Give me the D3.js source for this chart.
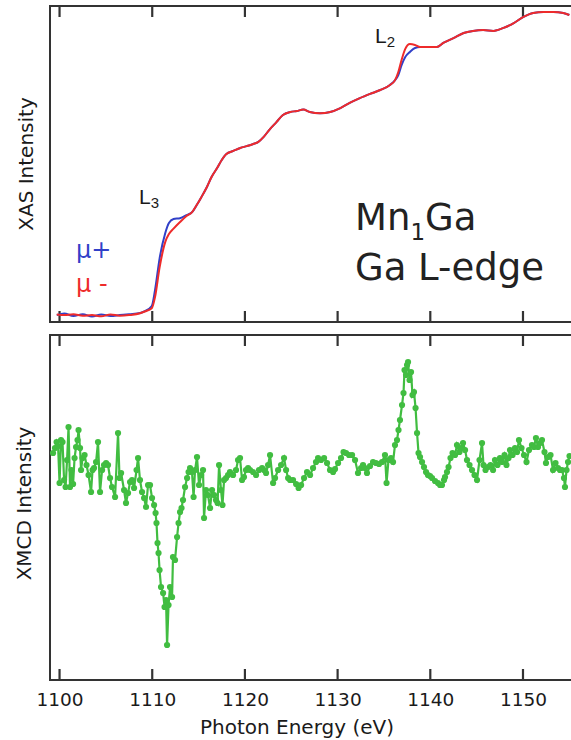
<!DOCTYPE html>
<html>
<head>
<meta charset="utf-8">
<script src="https://cdn.jsdelivr.net/npm/d3@7"></script>
<style>
  body { margin: 0; background: #fff; }
  text { font-family: "DejaVu Sans", sans-serif; fill: #1a1a1a; }
</style>
</head>
<body>
<div id="chart"></div>
<script>
// x ticks shared by both panels
const tickValues = [1100, 1110, 1120, 1130, 1140, 1150];

// XAS (top panel), same energy grid for both helicities
const xasEnergy = [1099.7, 1100.5, 1101.5, 1102.5, 1103.5, 1104.5, 1105.5, 1106.5, 1107.5, 1108.7,
  1109.2, 1109.95, 1110.3, 1110.8, 1111.4, 1111.8, 1112.3, 1113.0, 1113.7, 1114.3,
  1114.8, 1115.3, 1115.9, 1116.4, 1117.0, 1117.5, 1118.0, 1118.75, 1119.5, 1120.2,
  1120.9, 1121.45, 1122.0, 1122.7, 1123.4, 1124.1, 1124.9, 1125.6, 1126.3, 1127.0,
  1128.1, 1129.2, 1130.3, 1131.3, 1132.4, 1133.5, 1134.6, 1135.65, 1136.2, 1136.55,
  1136.9, 1137.3, 1137.8, 1138.35, 1138.9, 1140.0, 1140.7, 1141.4, 1142.5, 1143.6,
  1144.6, 1145.7, 1146.8, 1147.9, 1149.0, 1150.0, 1151.1, 1152.2, 1153.3, 1154.35, 1155.0];

const xasPlus = [0.000, 0.005, -0.003, 0.003, -0.005, 0.002, -0.003, 0.000, 0.003, 0.007,
  0.013, 0.030, 0.083, 0.190, 0.273, 0.307, 0.320, 0.323, 0.333, 0.343,
  0.367, 0.393, 0.427, 0.460, 0.490, 0.517, 0.537, 0.547, 0.557, 0.563,
  0.570, 0.577, 0.593, 0.620, 0.643, 0.667, 0.677, 0.680, 0.685, 0.677,
  0.673, 0.677, 0.690, 0.707, 0.723, 0.737, 0.750, 0.767, 0.783, 0.800,
  0.833, 0.860, 0.877, 0.890, 0.893, 0.893, 0.893, 0.907, 0.923, 0.940,
  0.947, 0.950, 0.947, 0.957, 0.973, 0.993, 1.007, 1.010, 1.010, 1.007, 1.000];

const xasMinus = [0.002, 0.000, 0.003, -0.002, 0.000, -0.004, 0.002, -0.002, 0.000, 0.006,
  0.012, 0.023, 0.060, 0.160, 0.243, 0.270, 0.288, 0.310, 0.330, 0.343,
  0.367, 0.393, 0.427, 0.460, 0.490, 0.517, 0.537, 0.547, 0.557, 0.563,
  0.570, 0.577, 0.593, 0.620, 0.643, 0.667, 0.677, 0.680, 0.685, 0.677,
  0.673, 0.677, 0.690, 0.707, 0.723, 0.737, 0.750, 0.767, 0.783, 0.810,
  0.850, 0.887, 0.903, 0.900, 0.893, 0.893, 0.893, 0.907, 0.923, 0.940,
  0.947, 0.950, 0.947, 0.957, 0.973, 0.993, 1.007, 1.010, 1.010, 1.007, 1.000];

// XMCD (bottom panel)
const xmcdEnergy = [
  1099.30, 1099.51, 1099.68, 1099.84, 1100.00, 1100.16, 1100.32, 1100.49, 1100.65, 1100.81,
  1100.97, 1101.13, 1101.29, 1101.46, 1101.62, 1101.78, 1101.94, 1102.05, 1102.21, 1102.32,
  1102.48, 1102.70, 1102.91, 1103.13, 1103.40, 1103.56, 1103.72, 1103.94, 1104.15, 1104.37,
  1104.59, 1104.80, 1105.02, 1105.23, 1105.45, 1105.66, 1105.99, 1106.31, 1106.47, 1106.64,
  1106.96, 1107.17, 1107.39, 1107.61, 1107.82, 1108.04, 1108.31, 1108.47, 1108.68, 1108.90,
  1109.12, 1109.33, 1109.55, 1109.76, 1109.98, 1110.20,
  1110.36, 1110.46, 1110.57, 1110.68, 1110.79, 1110.95, 1111.17, 1111.33, 1111.49, 1111.60,
  1111.76, 1111.92, 1112.14, 1112.24, 1112.46, 1112.68, 1112.84, 1113.00, 1113.16, 1113.32,
  1113.54, 1113.76, 1113.92, 1114.08,
  1114.29, 1114.46, 1114.62, 1114.83, 1115.05, 1115.27, 1115.48, 1115.59, 1115.80, 1116.02,
  1116.24, 1116.45, 1116.67, 1116.88, 1117.05, 1117.21, 1117.42, 1117.58, 1117.75, 1117.96,
  1118.18, 1118.39, 1118.72, 1119.04, 1119.26, 1119.47, 1119.69, 1119.90, 1120.12, 1120.34,
  1120.55, 1120.88, 1121.20, 1121.52, 1121.85, 1122.06, 1122.28, 1122.50, 1122.71, 1123.04,
  1123.25, 1123.58, 1123.90, 1124.22, 1124.44, 1124.66, 1124.87, 1125.19, 1125.52, 1125.79,
  1126.06, 1126.38, 1126.70, 1127.03, 1127.35, 1127.67, 1127.89, 1128.21, 1128.54, 1128.86,
  1129.18, 1129.51, 1129.72, 1130.05, 1130.37, 1130.64, 1130.91, 1131.23, 1131.56, 1131.88,
  1132.20, 1132.53, 1132.74, 1132.96, 1133.17, 1133.50, 1133.82, 1134.14, 1134.47, 1134.79,
  1135.11, 1135.28, 1135.49, 1135.76, 1135.98, 1136.19, 1136.41, 1136.57, 1136.73, 1136.95,
  1137.11, 1137.22, 1137.38, 1137.49, 1137.60, 1137.76, 1137.92, 1138.08, 1138.24, 1138.41,
  1138.57, 1138.73, 1138.89, 1139.11, 1139.32, 1139.54, 1139.75, 1139.97, 1140.19, 1140.51,
  1140.83, 1141.05, 1141.26, 1141.48, 1141.59, 1141.80, 1141.97, 1142.18, 1142.40, 1142.67,
  1142.88, 1143.15, 1143.31, 1143.53, 1143.75, 1143.96, 1144.23, 1144.50, 1144.77, 1145.04,
  1145.31, 1145.58, 1145.74, 1145.96, 1146.23, 1146.50, 1146.77, 1146.98, 1147.25, 1147.52,
  1147.74, 1148.01, 1148.22, 1148.44, 1148.60, 1148.87, 1149.14, 1149.36, 1149.57, 1149.84,
  1150.11, 1150.38, 1150.65, 1150.97, 1151.19, 1151.40, 1151.62, 1151.84, 1152.05, 1152.32,
  1152.48, 1152.70, 1152.97, 1153.24, 1153.51, 1153.78, 1153.99, 1154.21, 1154.42, 1154.53,
  1154.70, 1154.86, 1155.02];

const xmcdValue = [
  0.07, 0.12, 0.18, 0.14, -0.23, 0.20, 0.18, -0.20, -0.27, 0.00,
  0.33, -0.27, -0.10, -0.24, 0.02, 0.13, 0.20, 0.30, 0.12, -0.10,
  0.02, 0.05, -0.05, -0.15, -0.32, -0.10, -0.08, -0.02, 0.18, -0.32,
  -0.10, -0.05, -0.03, -0.05, -0.18, -0.27, -0.37, 0.27, -0.18, -0.13,
  -0.30, -0.43, -0.33, -0.22, -0.20, -0.28, -0.10, 0.02, -0.20, -0.32,
  -0.38, -0.47, -0.25, -0.25, -0.38, -0.45,
  -0.53, -0.63, -0.83, -0.93, -1.10, -1.27, -1.33, -1.47, -1.40, -1.85,
  -1.45, -1.27, -1.37, -0.97, -1.00, -0.77, -0.63, -0.52, -0.48, -0.40,
  -0.27, -0.18, -0.12, -0.08,
  -0.12, -0.37, -0.10, 0.03, -0.25, -0.15, -0.10, -0.58, -0.30, -0.35,
  -0.48, -0.30, -0.35, -0.40, -0.43, -0.05, -0.30, -0.45, -0.20, -0.18,
  -0.15, -0.12, -0.15, -0.10, 0.00, 0.02, -0.20, -0.17, -0.10, -0.08,
  -0.10, -0.12, -0.15, -0.10, -0.08, -0.10, -0.13, -0.05, 0.05, -0.23,
  -0.18, -0.10, -0.05, 0.02, -0.10, -0.18, -0.20, -0.20, -0.24, -0.28,
  -0.25, -0.18, -0.12, -0.15, -0.08, -0.02, 0.02, 0.00, 0.02, -0.03,
  -0.10, -0.12, -0.09, -0.03, 0.02, 0.08, 0.07, 0.05, 0.05, 0.00,
  -0.13, -0.08, -0.05, -0.08, -0.13, -0.06, -0.02, -0.03, -0.04, -0.02,
  0.05, -0.23, 0.00, 0.02, -0.02, 0.15, 0.20, 0.30, 0.40, 0.55,
  0.67, 0.90, 0.85, 0.95, 0.98, 0.80, 0.88, 0.65, 0.68, 0.52,
  0.27, 0.07, 0.03, -0.02, -0.07, -0.12, -0.15, -0.16, -0.18, -0.21,
  -0.23, -0.25, -0.25, -0.20, -0.17, -0.12, -0.07, 0.02, 0.07, 0.05,
  0.15, 0.08, 0.12, 0.17, 0.10, 0.00, -0.05, -0.10, -0.15, -0.20,
  0.00, 0.17, -0.05, -0.10, -0.07, -0.05, -0.10, 0.00, -0.05, 0.02,
  -0.02, 0.05, -0.05, 0.02, 0.10, 0.05, 0.12, 0.08, 0.20, 0.12,
  0.05, -0.02, 0.10, 0.15, 0.13, 0.22, 0.13, 0.17, 0.20, 0.08,
  -0.03, 0.03, 0.05, -0.10, -0.03, -0.08, -0.10, -0.10, -0.18, -0.27,
  -0.10, -0.02, 0.04];

// colours
const bluePlus = "#3140c8", redMinus = "#ee2b2b", green = "#41bd41";

// layout
const width = 571, height = 740;
const left = 50, right = 571;
const top1 = 6, bottom1 = 322, top2 = 335, bottom2 = 680;
const tickLen = 11;

const svg = d3.select("#chart")
  .append("svg")
  .attr("width", width)
  .attr("height", height);

const x = d3.scaleLinear().domain([1098.97, 1155.18]).range([left, right]);
const yXas = d3.scaleLinear().domain([-0.023, 1.03]).range([bottom1, top1]);
const yXmcd = d3.scaleLinear().domain([-2.2, 1.25]).range([bottom2, top2]);

// panel frame with inward ticks on top and bottom
function drawFrame(t, b) {
  const g = svg.append("g");
  g.selectAll("line.top")
    .data(tickValues)
    .join("line")
    .attr("class", "top")
    .attr("x1", d => x(d)).attr("x2", d => x(d))
    .attr("y1", t).attr("y2", t + tickLen)
    .attr("stroke", "#333").attr("stroke-width", 2.2);
  g.selectAll("line.bottom")
    .data(tickValues)
    .join("line")
    .attr("class", "bottom")
    .attr("x1", d => x(d)).attr("x2", d => x(d))
    .attr("y1", b).attr("y2", b - tickLen)
    .attr("stroke", "#333").attr("stroke-width", 2.2);

  g.append("path")
    .attr("d", `M${right + 2},${t}H${left}V${b}H${right + 2}`)
    .attr("fill", "none")
    .attr("stroke", "#333")
    .attr("stroke-width", 2);
}

drawFrame(top1, bottom1);
drawFrame(top2, bottom2);

// tick labels under the lower panel
const xAxis = svg.append("g")
  .attr("transform", `translate(0,${bottom2})`)
  .call(d3.axisBottom(x).tickValues(tickValues).tickSize(0).tickPadding(13).tickFormat(d3.format("d")));
xAxis.select(".domain").remove();
xAxis.selectAll(".tick text")
  .style("font-family", "'DejaVu Sans', sans-serif")
  .style("font-size", "18.5px")
  .attr("fill", "#1a1a1a");

// XAS lines, mu+ first then mu- on top
const xasLine = vals => d3.line()
  .x((d, i) => x(xasEnergy[i]))
  .y(d => yXas(d))
  .curve(d3.curveMonotoneX)(vals);

svg.append("path")
  .attr("d", xasLine(xasPlus))
  .attr("fill", "none")
  .attr("stroke", bluePlus)
  .attr("stroke-width", 2);

svg.append("path")
  .attr("d", xasLine(xasMinus))
  .attr("fill", "none")
  .attr("stroke", redMinus)
  .attr("stroke-width", 2);

// XMCD line + dots
const xmcd = xmcdEnergy.map((e, i) => ({ e: e, v: xmcdValue[i] }));

svg.append("path")
  .datum(xmcd)
  .attr("d", d3.line().x(d => x(d.e)).y(d => yXmcd(d.v)))
  .attr("fill", "none")
  .attr("stroke", green)
  .attr("stroke-width", 2.2);

svg.append("g")
  .selectAll("circle")
  .data(xmcd)
  .join("circle")
  .attr("cx", d => x(d.e))
  .attr("cy", d => yXmcd(d.v))
  .attr("r", 3.1)
  .attr("fill", green);

// axis titles
svg.append("text")
  .attr("transform", `translate(33,${(top1 + bottom1) / 2}) rotate(-90)`)
  .attr("text-anchor", "middle")
  .style("font-size", "20px")
  .text("XAS Intensity");

svg.append("text")
  .attr("transform", `translate(31,${(top2 + bottom2) / 2 - 4}) rotate(-90)`)
  .attr("text-anchor", "middle")
  .style("font-size", "20px")
  .text("XMCD Intensity");

svg.append("text")
  .attr("x", 297)
  .attr("y", 734)
  .attr("text-anchor", "middle")
  .style("font-size", "20px")
  .text("Photon Energy (eV)");

// edge labels
function edgeLabel(px, py, sub) {
  const t = svg.append("text")
    .attr("x", px)
    .attr("y", py)
    .style("font-family", "'Liberation Sans', Arial, sans-serif")
    .style("font-size", "21px");
  t.append("tspan").text("L");
  t.append("tspan").attr("dy", 4).style("font-size", "15px").text(sub);
}
edgeLabel(139, 204, "3");
edgeLabel(375, 43, "2");

// helicity legend
svg.append("text")
  .attr("x", 76)
  .attr("y", 258)
  .style("fill", bluePlus)
  .style("font-size", "24px")
  .text("μ+");

svg.append("text")
  .attr("x", 76)
  .attr("y", 292)
  .style("fill", redMinus)
  .style("font-size", "24px")
  .text("μ -");

// sample label
const sample = svg.append("text")
  .attr("x", 355)
  .attr("y", 230)
  .style("font-size", "37px")
  .style("fill", "#222");
sample.append("tspan").text("Mn");
sample.append("tspan").attr("dy", 10).style("font-size", "23px").text("1");
sample.append("tspan").attr("dy", -10).text("Ga");

svg.append("text")
  .attr("x", 355)
  .attr("y", 280)
  .style("font-size", "37px")
  .style("fill", "#222")
  .text("Ga L-edge");
</script>
</body>
</html>
